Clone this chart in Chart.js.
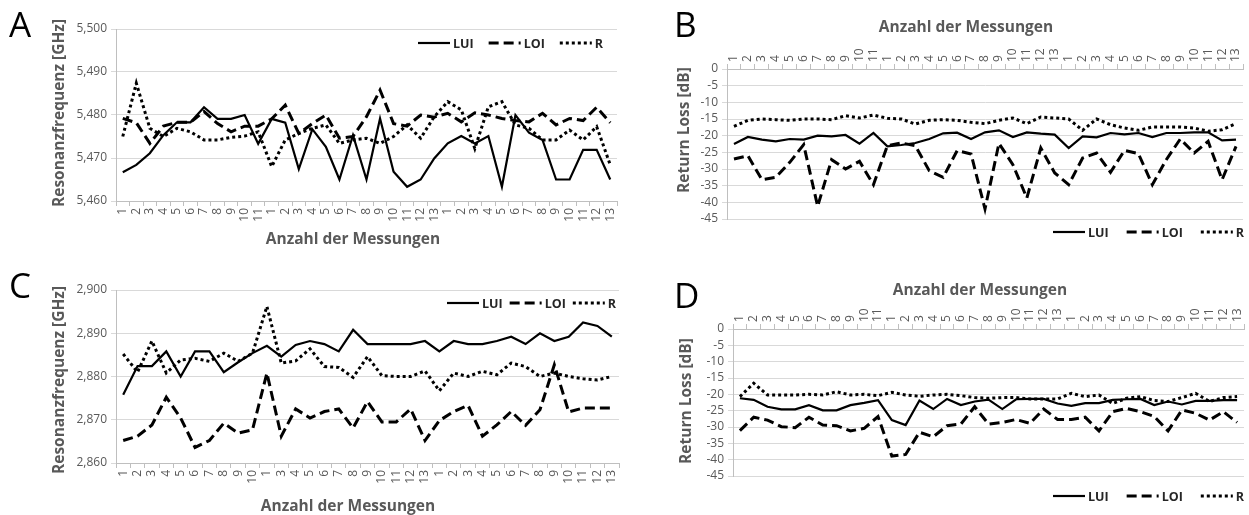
<!DOCTYPE html>
<html>
<head>
<meta charset="utf-8">
<script src="https://cdn.jsdelivr.net/npm/chart.js@4.4.0/dist/chart.umd.min.js"></script>
<style>
  html, body { margin: 0; padding: 0; background: #fff; }
  #wrap { position: relative; width: 1249px; height: 515px; overflow: hidden; }
  canvas { position: absolute; display: block; }
</style>
</head>
<body>
<div id="wrap">
  <canvas id="cA" width="640" height="256" style="left:0;top:0"></canvas>
  <canvas id="cB" width="609" height="256" style="left:640px;top:0"></canvas>
  <canvas id="cC" width="640" height="259" style="left:0;top:256px"></canvas>
  <canvas id="cD" width="609" height="259" style="left:640px;top:256px"></canvas>
</div>
<script>
// ---- measurement labels (three series of runs) ----
const labelsA = ['1','2','3','4','5','6','7','8','9','10','11','1','2','3','4','5','6','7','8','9','10','11','12','13','1','2','3','4','5','6','7','8','9','10','11','12','13'];
const labelsB = ['1','2','3','4','5','6','7','8','9','10','11','1','2','3','4','5','6','7','8','9','10','11','12','13','1','2','3','4','5','6','7','8','9','10','11','12','13'];
const labelsC = ['1','2','3','4','5','6','7','8','9','10','1','3','4','5','6','7','8','9','10','11','12','13','1','2','3','4','5','6','7','8','9','10','11','12','13'];
const labelsD = ['1','2','3','4','5','6','7','8','9','10','11','1','2','3','4','5','6','7','8','9','10','11','12','13','1','2','3','4','5','6','7','8','9','10','11','12','13'];

// ---- y tick labels ----
const yTicksA = ['5,460','5,470','5,480','5,490','5,500'];
const yTicksC = ['2,860','2,870','2,880','2,890','2,900'];
const yTicksRL = ['-45','-40','-35','-30','-25','-20','-15','-10','-5','0'];

// ---- A: resonance frequency [GHz], band 1 ----
const luiA = [5.4667,5.4684,5.4711,5.4753,5.4783,5.4783,5.4818,5.4791,5.4791,5.4800,5.4733,5.4791,5.4782,5.4674,5.4767,5.4726,5.4650,5.4753,5.4650,5.4792,5.4668,5.4633,5.4650,5.4699,5.4734,5.4751,5.4734,5.4751,5.4633,5.4800,5.4759,5.4742,5.4650,5.4650,5.4719,5.4719,5.4650];
const loiA = [5.4792,5.4782,5.4734,5.4774,5.4783,5.4783,5.4808,5.4780,5.4761,5.4774,5.4774,5.4791,5.4823,5.4757,5.4780,5.4800,5.4746,5.4750,5.4796,5.4858,5.4780,5.4774,5.4800,5.4795,5.4804,5.4784,5.4805,5.4800,5.4792,5.4787,5.4784,5.4804,5.4777,5.4792,5.4787,5.4818,5.4782];
const rA   = [5.4750,5.4874,5.4769,5.4750,5.4769,5.4761,5.4742,5.4742,5.4748,5.4751,5.4761,5.4680,5.4742,5.4757,5.4769,5.4777,5.4734,5.4742,5.4746,5.4734,5.4750,5.4777,5.4746,5.4796,5.4831,5.4812,5.4722,5.4819,5.4831,5.4777,5.4769,5.4742,5.4742,5.4765,5.4742,5.4773,5.4684];

// ---- B: return loss [dB], band 1 ----
const luiB = [-22.5,-20.4,-21.2,-21.7,-21,-21.2,-20,-20.2,-19.8,-22.4,-19.2,-23.2,-22.8,-22.2,-21,-19.3,-19.1,-21,-19,-18.4,-20.4,-19,-19.4,-19.7,-23.7,-20.2,-20.5,-19.2,-19.6,-19.2,-20.4,-19.2,-19.2,-19,-19,-21.4,-21.2];
const loiB = [-27,-26,-33.2,-32.5,-28,-22.7,-41.2,-27.2,-30,-27.7,-34.7,-23,-22.2,-23,-30.5,-32.5,-24.5,-25.5,-42,-22.3,-28.7,-38.7,-23.7,-31.2,-34.7,-26.7,-25.2,-31,-24.4,-25.4,-34.7,-27.2,-21,-25.2,-21.7,-33.2,-23.2];
const rB   = [-17.2,-15.4,-15,-15.2,-15.4,-15,-15,-15.2,-14,-14.7,-13.8,-14.8,-15,-16.5,-15.4,-15.2,-15.4,-16,-16.4,-15.4,-14.7,-16.4,-14.4,-14.7,-15,-18.4,-15,-16.7,-17.7,-18.4,-17.4,-17.4,-17.4,-17.7,-18.7,-18.2,-16.4];

// ---- C: resonance frequency [GHz], band 2 ----
const luiC = [2.8758,2.8824,2.8824,2.8858,2.8800,2.8858,2.8858,2.8810,2.8833,2.8854,2.8871,2.8846,2.8873,2.8882,2.8875,2.8858,2.8908,2.8875,2.8875,2.8875,2.8875,2.8882,2.8858,2.8882,2.8875,2.8875,2.8882,2.8892,2.8875,2.8900,2.8882,2.8892,2.8925,2.8917,2.8892];
const loiC = [2.8652,2.8662,2.8688,2.8752,2.8704,2.8636,2.8652,2.8692,2.8669,2.8677,2.8808,2.8662,2.8725,2.8704,2.8719,2.8725,2.8681,2.8742,2.8695,2.8695,2.8725,2.8652,2.8698,2.8719,2.8733,2.8662,2.8688,2.8719,2.8687,2.8723,2.8827,2.8718,2.8727,2.8727,2.8727];
const rC   = [2.8852,2.8810,2.8882,2.8808,2.8838,2.8842,2.8835,2.8854,2.8835,2.8854,2.8962,2.8831,2.8836,2.8864,2.8823,2.8821,2.8798,2.8846,2.8802,2.8800,2.8800,2.8813,2.8767,2.8808,2.8800,2.8812,2.8804,2.8831,2.8823,2.8800,2.8808,2.8800,2.8795,2.8792,2.8800];

// ---- D: return loss [dB], band 2 ----
const luiD = [-21.2,-21.7,-23.8,-24.6,-24.6,-23.3,-24.9,-24.9,-23.3,-22.6,-21.8,-27.9,-29.4,-21.9,-24.5,-21.4,-23.3,-22.2,-21.6,-24.5,-21.5,-21.4,-21.4,-22.8,-23.5,-22.7,-22.7,-21.7,-21.5,-21.4,-23.3,-22.2,-23.1,-22,-22,-21.8,-21.8];
const loiD = [-31.1,-27,-27.9,-29.9,-30.2,-27,-29.4,-29.6,-31.2,-30.4,-26.8,-38.9,-38.4,-31.6,-33,-29.6,-29.1,-23.8,-29.1,-28.6,-27.7,-28.9,-24.5,-27.7,-27.7,-27,-31.2,-25.3,-24.3,-25.3,-26.8,-31.2,-24.8,-25.8,-27.9,-25.3,-28.6];
const rD   = [-20.7,-16.6,-20.2,-20.2,-20.2,-20,-20.2,-19.2,-20.2,-20,-20.4,-19.4,-20.2,-20.6,-20.2,-20,-20.4,-21,-21.2,-21,-21,-21.4,-21.4,-21.4,-19.7,-20.7,-20.2,-22.8,-21.2,-20.7,-21.9,-22.2,-21,-19.7,-22.2,-21,-20.7];

const FONT = '"Open Sans", "DejaVu Sans", sans-serif';
const GREY = '#595959';
const X_TICK_SIZE = 12;

// panel letter, axis titles and the line-style key
const decor = {
  id: 'decor',
  afterDraw(chart, args, o) {
    const ctx = chart.ctx;
    ctx.save();
    ctx.fillStyle = '#000';
    ctx.font = '400 35px ' + FONT;
    ctx.textAlign = 'left';
    ctx.textBaseline = 'alphabetic';
    ctx.fillText(o.letter, o.letterX, o.letterY);

    ctx.fillStyle = GREY;
    ctx.font = '700 15.5px ' + FONT;
    ctx.textAlign = 'center';
    ctx.textBaseline = 'middle';
    ctx.save();
    ctx.translate(o.yTitleX, o.yTitleY);
    ctx.rotate(-Math.PI / 2);
    ctx.fillText(o.yTitle, 0, 0);
    ctx.restore();
    ctx.fillText(o.xTitle, o.xTitleX, o.xTitleY);

    ctx.font = '700 12.5px ' + FONT;
    ctx.fillStyle = '#262626';
    ctx.textAlign = 'left';
    let x = o.legendX;
    chart.data.datasets.forEach(ds => {
      ctx.beginPath();
      ctx.setLineDash(ds.borderDash || []);
      ctx.lineWidth = ds.borderWidth;
      ctx.strokeStyle = ds.borderColor;
      ctx.lineCap = 'butt';
      ctx.moveTo(x, o.legendY);
      ctx.lineTo(x + 32, o.legendY);
      ctx.stroke();
      ctx.setLineDash([]);
      x += 35;
      ctx.fillText(ds.label, x, o.legendY + 1);
      x += ctx.measureText(ds.label).width + o.legendGap;
    });
    ctx.restore();
  }
};

function datasets(lui, loi, r) {
  const base = { borderColor: '#000', backgroundColor: '#000', pointRadius: 0, pointHoverRadius: 0, tension: 0, fill: false, borderCapStyle: 'butt' };
  return [
    Object.assign({ label: 'LUI', data: lui, borderWidth: 2.2, borderDash: [] }, base),
    Object.assign({ label: 'LOI', data: loi, borderWidth: 3, borderDash: [10, 5] }, base),
    Object.assign({ label: 'R', data: r, borderWidth: 3, borderDash: [3, 3] }, base)
  ];
}

function makeChart(id, cfg) {
  // rotated labels on a top axis are shifted back by one line height
  const labelShift = cfg.xPos === 'top' ? X_TICK_SIZE * 1.2 : 0;
  new Chart(document.getElementById(id), {
    type: 'line',
    data: { labels: cfg.labels, datasets: datasets(cfg.lui, cfg.loi, cfg.r) },
    plugins: [decor],
    options: {
      responsive: false,
      animation: false,
      devicePixelRatio: 1,
      layout: { padding: cfg.padding },
      plugins: {
        legend: { display: false },
        tooltip: { enabled: false },
        decor: cfg.decor
      },
      scales: {
        x: {
          type: 'category',
          position: cfg.xPos,
          offset: true,
          grid: { display: true, offset: true, drawOnChartArea: false, drawTicks: true, tickLength: 5, color: '#bfbfbf' },
          border: { display: true, color: '#bfbfbf', width: 1 },
          ticks: { autoSkip: false, minRotation: 90, maxRotation: 90, padding: 2, labelOffset: labelShift,
                   color: GREY, font: { family: FONT, size: X_TICK_SIZE } },
          afterFit(scale) { scale.height = cfg.xHeight; }
        },
        y: {
          min: cfg.yMin, max: cfg.yMax,
          grid: { color: '#d9d9d9', lineWidth: 1, drawTicks: true, tickLength: 5 },
          border: { display: true, color: '#bfbfbf', width: 1 },
          ticks: { autoSkip: false, stepSize: cfg.yStep, padding: 4, color: GREY, font: { family: FONT, size: 12 },
                   callback: (v, i) => cfg.yLabels[i] },
          afterFit(scale) { scale.width = cfg.yWidth; }
        }
      }
    }
  });
}

makeChart('cA', {
  labels: labelsA, lui: luiA, loi: loiA, r: rA,
  padding: { left: 0, top: 29, right: 23, bottom: 0 },
  xPos: 'bottom', xHeight: 55, yWidth: 116,
  yMin: 5.46, yMax: 5.5, yStep: 0.01, yLabels: yTicksA,
  decor: { letter: 'A', letterX: 9, letterY: 37, yTitle: 'Resonanzfrequenz [GHz]', yTitleX: 60, yTitleY: 113,
           xTitle: 'Anzahl der Messungen', xTitleX: 353, xTitleY: 240, legendX: 418, legendY: 43, legendGap: 15 }
});

makeChart('cB', {
  labels: labelsB, lui: luiB, loi: loiB, r: rB,
  padding: { left: 0, top: 0, right: 6, bottom: 37 },
  xPos: 'top', xHeight: 69, yWidth: 87,
  yMin: -45, yMax: 0, yStep: 5, yLabels: yTicksRL,
  decor: { letter: 'B', letterX: 34, letterY: 37, yTitle: 'Return Loss [dB]', yTitleX: 45, yTitleY: 130,
           xTitle: 'Anzahl der Messungen', xTitleX: 326, xTitleY: 28, legendX: 413, legendY: 232, legendGap: 18 }
});

makeChart('cC', {
  labels: labelsC, lui: luiC, loi: loiC, r: rC,
  padding: { left: 0, top: 34, right: 21, bottom: 0 },
  xPos: 'bottom', xHeight: 52, yWidth: 116,
  yMin: 2.86, yMax: 2.9, yStep: 0.01, yLabels: yTicksC,
  decor: { letter: 'C', letterX: 9, letterY: 42, yTitle: 'Resonanzfrequenz [GHz]', yTitleX: 60, yTitleY: 124,
           xTitle: 'Anzahl der Messungen', xTitleX: 348, xTitleY: 251, legendX: 447, legendY: 47, legendGap: 7 }
});

makeChart('cD', {
  labels: labelsD, lui: luiD, loi: loiD, r: rD,
  padding: { left: 0, top: 0, right: 5, bottom: 39 },
  xPos: 'top', xHeight: 73, yWidth: 93,
  yMin: -45, yMax: 0, yStep: 5, yLabels: yTicksRL,
  decor: { letter: 'D', letterX: 34, letterY: 52, yTitle: 'Return Loss [dB]', yTitleX: 47, yTitleY: 145,
           xTitle: 'Anzahl der Messungen', xTitleX: 340, xTitleY: 35, legendX: 413, legendY: 240, legendGap: 18 }
});
</script>
</body>
</html>
